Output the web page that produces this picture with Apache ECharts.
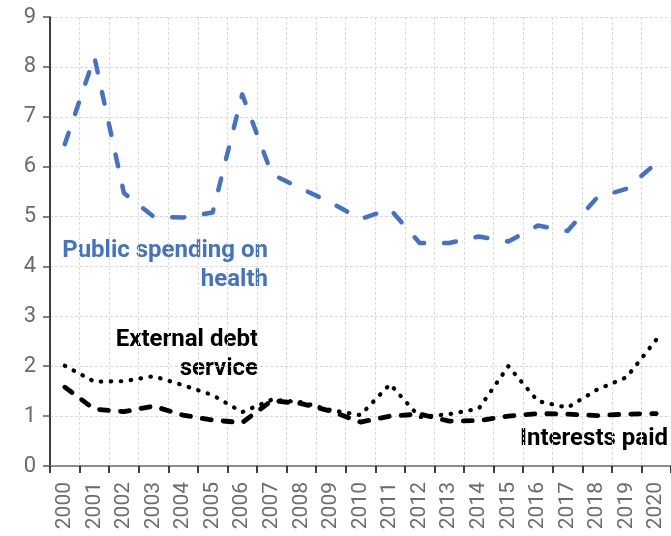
<!DOCTYPE html>
<html>
<head>
<meta charset="utf-8">
<script src="https://cdn.jsdelivr.net/npm/echarts@6/dist/echarts.min.js"></script>
<style>
html,body{margin:0;padding:0;background:#fff;}
#chart{width:671px;height:536px;}
</style>
</head>
<body>
<div id="chart"></div>
<script>
const years = ['2000','2001','2002','2003','2004','2005','2006','2007','2008','2009','2010',
               '2011','2012','2013','2014','2015','2016','2017','2018','2019','2020'];
const yTicks = [0, 9, 1]; // min, max, interval
const publicHealth = [6.45, 8.2, 5.47, 5.0, 4.98, 5.08, 7.45, 5.85, 5.56, 5.28, 4.95,
                      5.15, 4.47, 4.47, 4.6, 4.5, 4.82, 4.71, 5.38, 5.56, 6.07];
const externalDebt = [2.01, 1.69, 1.70, 1.80, 1.62, 1.42, 1.08, 1.33, 1.28, 1.12, 1.02,
                      1.64, 0.98, 1.04, 1.15, 2.0, 1.30, 1.17, 1.53, 1.78, 2.53];
const interestsPaid = [1.58, 1.14, 1.09, 1.20, 1.02, 0.92, 0.87, 1.31, 1.25, 1.10, 0.88,
                       1.0, 1.04, 0.90, 0.91, 1.0, 1.05, 1.04, 1.01, 1.04, 1.05];
const seriesNames = ['Public spending on health', 'External debt service', 'Interests paid'];

const chart = echarts.init(document.getElementById('chart'), null, {renderer: 'canvas'});
const FONT = 'Roboto, "DejaVu Sans", sans-serif';
chart.setOption({
  animation: false,
  backgroundColor: '#fff',
  grid: {left: 50, right: -6, top: 17, bottom: 70, containLabel: false},
  xAxis: {
    type: 'category',
    data: years,
    boundaryGap: true,
    axisLine: {show: true, lineStyle: {color: '#8c8c8c', width: 2}},
    axisTick: {show: true, length: 7, lineStyle: {color: '#000', width: 1.5}},
    axisLabel: {rotate: 90, margin: 16, color: '#6b6b6b', fontSize: 21, fontFamily: FONT, interval: 0},
    splitLine: {show: true, lineStyle: {color: '#d9d9d9', type: [3, 2], width: 1}}
  },
  yAxis: {
    type: 'value',
    min: yTicks[0], max: yTicks[1], interval: yTicks[2],
    axisLine: {show: true, lineStyle: {color: '#000', width: 1.5}},
    axisTick: {show: true, length: 7, lineStyle: {color: '#555', width: 1.5}},
    axisLabel: {margin: 14, color: '#6b6b6b', fontSize: 22, fontFamily: FONT},
    splitLine: {show: true, lineStyle: {color: '#d9d9d9', type: [3, 2], width: 1}}
  },
  series: [
    {
      name: seriesNames[0], type: 'line', data: publicHealth, symbol: 'none', smooth: false,
      lineStyle: {color: '#4472C4', width: 4.5, type: [12, 20], cap: 'round', join: 'round'}
    },
    {
      name: seriesNames[1], type: 'line', data: externalDebt, symbol: 'none', smooth: false,
      lineStyle: {color: '#000', width: 4.2, type: [0.5, 9.5], cap: 'round', join: 'round'}
    },
    {
      name: seriesNames[2], type: 'line', data: interestsPaid, symbol: 'none', smooth: false,
      lineStyle: {color: '#000', width: 4.8, type: [9, 12], cap: 'round', join: 'round'}
    }
  ],
  graphic: [
    {type: 'text', x: 268, y: 236, style: {text: 'Public spending on\nhealth', fill: '#4472C4',
      font: 'bold 24px ' + FONT, align: 'right', verticalAlign: 'top', lineHeight: 29}},
    {type: 'text', x: 258, y: 325, style: {text: 'External debt\nservice', fill: '#000',
      font: 'bold 24px ' + FONT, align: 'right', verticalAlign: 'top', lineHeight: 29}},
    {type: 'text', x: 668, y: 425, style: {text: 'Interests paid', fill: '#000',
      font: 'bold 24px ' + FONT, align: 'right', verticalAlign: 'top', lineHeight: 28}}
  ]
});
</script>
</body>
</html>
